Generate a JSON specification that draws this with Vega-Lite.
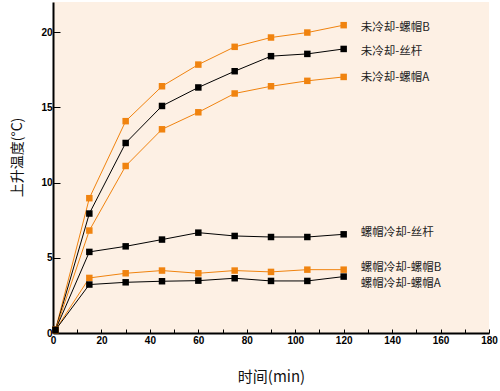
{
  "$schema": "https://vega.github.io/schema/vega-lite/v6.json",
  "autosize": "none",
  "width": 436,
  "height": 331,
  "padding": {"left": 53, "top": 2, "right": 11, "bottom": 58},
  "background": "white",
  "config": {
    "view": {"fill": "#fdf0e4", "stroke": null},
    "font": "Liberation Sans"
  },
  "data": {
    "values": [
      {"s": "未冷却-螺帽B", "c": "o", "t": 1, "v": 0.2},
      {"s": "未冷却-螺帽B", "c": "o", "t": 15, "v": 8.96},
      {"s": "未冷却-螺帽B", "c": "o", "t": 30, "v": 14.08},
      {"s": "未冷却-螺帽B", "c": "o", "t": 45, "v": 16.4},
      {"s": "未冷却-螺帽B", "c": "o", "t": 60, "v": 17.84},
      {"s": "未冷却-螺帽B", "c": "o", "t": 75, "v": 19.02},
      {"s": "未冷却-螺帽B", "c": "o", "t": 90, "v": 19.64},
      {"s": "未冷却-螺帽B", "c": "o", "t": 105, "v": 19.97},
      {"s": "未冷却-螺帽B", "c": "o", "t": 120, "v": 20.46},
      {"s": "未冷却-丝杆", "c": "k", "t": 1, "v": 0.2},
      {"s": "未冷却-丝杆", "c": "k", "t": 15, "v": 7.94},
      {"s": "未冷却-丝杆", "c": "k", "t": 30, "v": 12.63},
      {"s": "未冷却-丝杆", "c": "k", "t": 45, "v": 15.09},
      {"s": "未冷却-丝杆", "c": "k", "t": 60, "v": 16.32},
      {"s": "未冷却-丝杆", "c": "k", "t": 75, "v": 17.4},
      {"s": "未冷却-丝杆", "c": "k", "t": 90, "v": 18.4},
      {"s": "未冷却-丝杆", "c": "k", "t": 105, "v": 18.55},
      {"s": "未冷却-丝杆", "c": "k", "t": 120, "v": 18.88},
      {"s": "未冷却-螺帽A", "c": "o", "t": 1, "v": 0.2},
      {"s": "未冷却-螺帽A", "c": "o", "t": 15, "v": 6.81},
      {"s": "未冷却-螺帽A", "c": "o", "t": 30, "v": 11.1},
      {"s": "未冷却-螺帽A", "c": "o", "t": 45, "v": 13.54},
      {"s": "未冷却-螺帽A", "c": "o", "t": 60, "v": 14.67},
      {"s": "未冷却-螺帽A", "c": "o", "t": 75, "v": 15.92},
      {"s": "未冷却-螺帽A", "c": "o", "t": 90, "v": 16.4},
      {"s": "未冷却-螺帽A", "c": "o", "t": 105, "v": 16.76},
      {"s": "未冷却-螺帽A", "c": "o", "t": 120, "v": 17.02},
      {"s": "螺帽冷却-丝杆", "c": "k", "t": 1, "v": 0.2},
      {"s": "螺帽冷却-丝杆", "c": "k", "t": 15, "v": 5.39},
      {"s": "螺帽冷却-丝杆", "c": "k", "t": 30, "v": 5.76},
      {"s": "螺帽冷却-丝杆", "c": "k", "t": 45, "v": 6.21},
      {"s": "螺帽冷却-丝杆", "c": "k", "t": 60, "v": 6.67},
      {"s": "螺帽冷却-丝杆", "c": "k", "t": 75, "v": 6.45},
      {"s": "螺帽冷却-丝杆", "c": "k", "t": 90, "v": 6.38},
      {"s": "螺帽冷却-丝杆", "c": "k", "t": 105, "v": 6.38},
      {"s": "螺帽冷却-丝杆", "c": "k", "t": 120, "v": 6.56},
      {"s": "螺帽冷却-螺帽B", "c": "o", "t": 1, "v": 0.2},
      {"s": "螺帽冷却-螺帽B", "c": "o", "t": 15, "v": 3.66},
      {"s": "螺帽冷却-螺帽B", "c": "o", "t": 30, "v": 3.97},
      {"s": "螺帽冷却-螺帽B", "c": "o", "t": 45, "v": 4.15},
      {"s": "螺帽冷却-螺帽B", "c": "o", "t": 60, "v": 3.97},
      {"s": "螺帽冷却-螺帽B", "c": "o", "t": 75, "v": 4.15},
      {"s": "螺帽冷却-螺帽B", "c": "o", "t": 90, "v": 4.06},
      {"s": "螺帽冷却-螺帽B", "c": "o", "t": 105, "v": 4.21},
      {"s": "螺帽冷却-螺帽B", "c": "o", "t": 120, "v": 4.21},
      {"s": "螺帽冷却-螺帽A", "c": "k", "t": 1, "v": 0.2},
      {"s": "螺帽冷却-螺帽A", "c": "k", "t": 15, "v": 3.22},
      {"s": "螺帽冷却-螺帽A", "c": "k", "t": 30, "v": 3.37},
      {"s": "螺帽冷却-螺帽A", "c": "k", "t": 45, "v": 3.44},
      {"s": "螺帽冷却-螺帽A", "c": "k", "t": 60, "v": 3.48},
      {"s": "螺帽冷却-螺帽A", "c": "k", "t": 75, "v": 3.64},
      {"s": "螺帽冷却-螺帽A", "c": "k", "t": 90, "v": 3.46},
      {"s": "螺帽冷却-螺帽A", "c": "k", "t": 105, "v": 3.46},
      {"s": "螺帽冷却-螺帽A", "c": "k", "t": 120, "v": 3.75}
    ]
  },
  "encoding": {
    "x": {
      "field": "t", "type": "quantitative",
      "scale": {"domain": [0, 180], "nice": false},
      "axis": {
        "title": "时间(min)", "titleFont": "Noto Sans CJK SC", "titleFontSize": 15, "titleFontWeight": "normal", "titleColor": "#111", "titlePadding": 24,
        "values": [0, 10, 20, 30, 40, 50, 60, 70, 80, 90, 100, 110, 120, 130, 140, 150, 160, 170, 180],
        "labelExpr": "datum.value % 20 == 0 ? datum.label : ''",
        "labelFontWeight": "bold", "labelFontSize": 10, "labelColor": "#000", "labelPadding": 6,
        "tickSize": -4, "tickColor": "#000", "tickWidth": 1,
        "domainColor": "#000", "domainWidth": 2, "grid": false, "labelFlush": false
      }
    },
    "y": {
      "field": "v", "type": "quantitative",
      "scale": {"domain": [0, 22], "nice": false},
      "axis": {
        "title": "上升温度(°C)", "titleFont": "Noto Sans CJK SC", "titleFontSize": 14, "titleFontWeight": "normal", "titleColor": "#111", "titlePadding": 16, "titleY": 155,
        "values": [0, 5, 10, 15, 20],
        "labelFontWeight": "bold", "labelFontSize": 10, "labelColor": "#000", "labelPadding": 8,
        "tickSize": -7, "tickColor": "#000", "tickWidth": 1,
        "domainColor": "#000", "domainWidth": 2, "grid": false
      }
    },
    "color": {
      "field": "c", "type": "nominal",
      "scale": {"domain": ["o", "k"], "range": ["#f0830f", "#000000"]},
      "legend": null
    }
  },
  "layer": [
    {
      "mark": {"type": "line", "strokeWidth": 1, "clip": false},
      "encoding": {"detail": {"field": "s"}}
    },
    {
      "mark": {"type": "square", "size": 42, "opacity": 1, "filled": true, "clip": false}
    },
    {
      "transform": [{"filter": "datum.t == 120 && (datum.s == '未冷却-螺帽B' || datum.s == '未冷却-丝杆')"}],
      "mark": {"type": "text", "align": "left", "baseline": "middle", "dx": 17, "dy": 3, "font": "Noto Sans CJK SC", "fontSize": 11.5},
      "encoding": {
        "text": {"field": "s"},
        "color": {"value": "#222"}
      }
    },
    {
      "transform": [{"filter": "datum.t == 120 && datum.s == '未冷却-螺帽A'"}],
      "mark": {"type": "text", "align": "left", "baseline": "middle", "dx": 17, "dy": 1, "font": "Noto Sans CJK SC", "fontSize": 11.5},
      "encoding": {
        "text": {"field": "s"},
        "color": {"value": "#222"}
      }
    },
    {
      "transform": [{"filter": "datum.t == 120 && (datum.s == '螺帽冷却-丝杆' || datum.s == '螺帽冷却-螺帽B')"}],
      "mark": {"type": "text", "align": "left", "baseline": "middle", "dx": 17, "dy": -1.5, "font": "Noto Sans CJK SC", "fontSize": 11.5},
      "encoding": {
        "text": {"field": "s"},
        "color": {"value": "#222"}
      }
    },
    {
      "transform": [{"filter": "datum.t == 120 && datum.s == '螺帽冷却-螺帽A'"}],
      "mark": {"type": "text", "align": "left", "baseline": "middle", "dx": 17, "dy": 7, "font": "Noto Sans CJK SC", "fontSize": 11.5},
      "encoding": {
        "text": {"field": "s"},
        "color": {"value": "#222"}
      }
    }
  ]
}
